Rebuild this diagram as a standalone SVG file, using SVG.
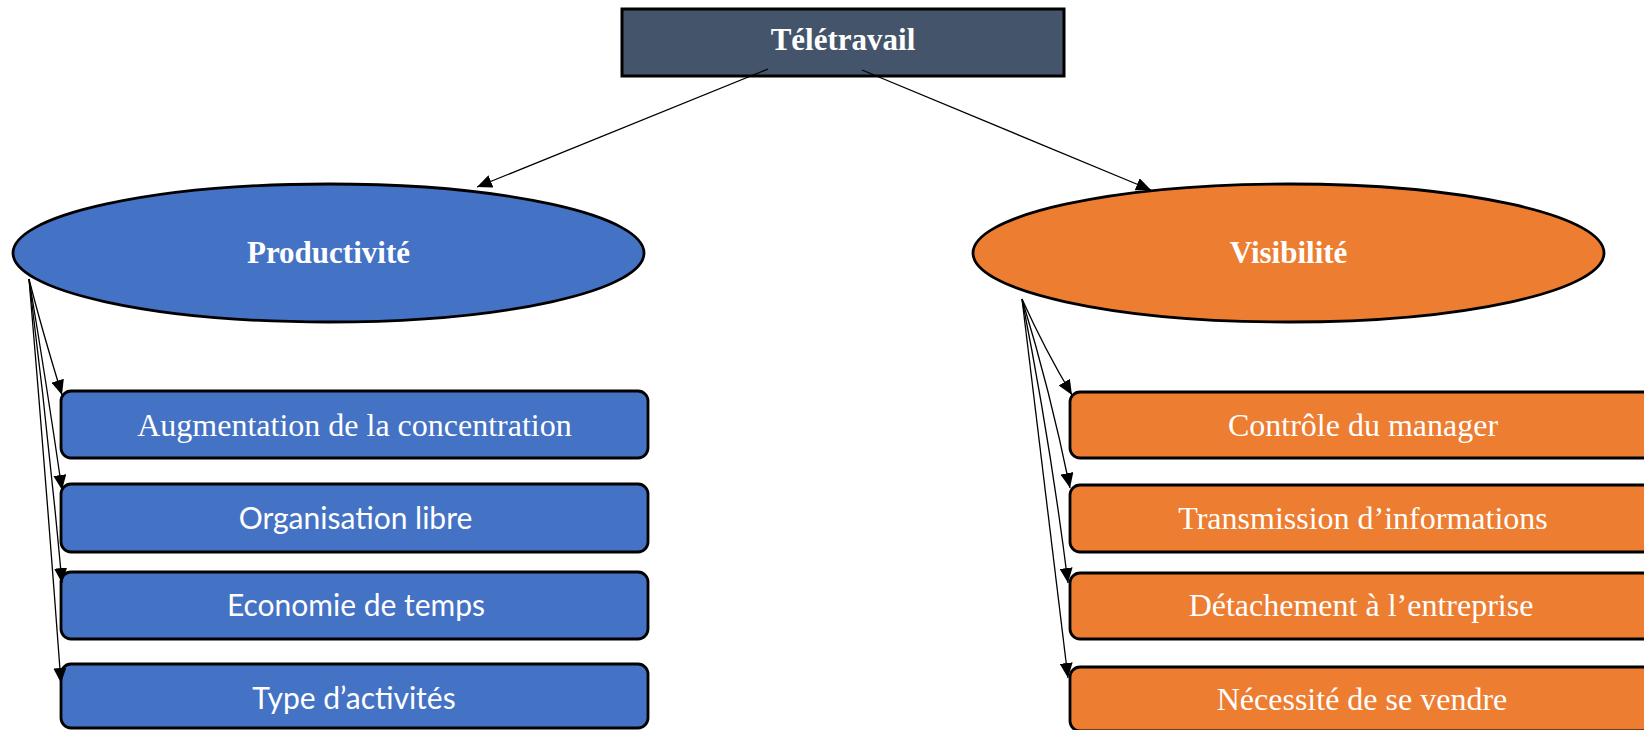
<svg xmlns="http://www.w3.org/2000/svg" width="1644" height="730" viewBox="0 0 1644 730">
<defs>
<marker id="ah" markerUnits="userSpaceOnUse" markerWidth="16" markerHeight="13" refX="15" refY="6.5" orient="auto">
<path d="M0,0 L15,6.5 L0,13 Z" fill="#000"/>
</marker>
<style>
.top{fill:#44546A;stroke:#000;stroke-width:3}
.blue{fill:#4472C4;stroke:#000;stroke-width:2.8}
.orange{fill:#ED7D31;stroke:#000;stroke-width:2.8}
.title{font-family:"Liberation Serif",serif;font-weight:bold;font-size:31px;fill:#fff;text-anchor:middle}
.serif{font-family:"Liberation Serif",serif;font-size:32px;fill:#fff;text-anchor:middle}
.sans{font-family:Lato,"Liberation Sans",sans-serif;font-size:30px;fill:#fff;text-anchor:middle}
.conn{fill:none;stroke:#000;stroke-width:1.3;marker-end:url(#ah)}
</style>
</defs>
<rect width="1644" height="730" fill="#fff"/>
<g id="teletravail">
<rect class="top" x="622" y="9" width="442" height="67"/>
<text class="title" x="843" y="50">Télétravail</text>
</g>
<g id="productivite">
<ellipse class="blue" cx="328.5" cy="253" rx="315.5" ry="69"/>
<text class="title" x="328.5" y="253" dy="10">Productivité</text>
</g>
<g id="visibilite">
<ellipse class="orange" cx="1288.5" cy="253" rx="315.5" ry="69"/>
<text class="title" x="1288.5" y="253" dy="10">Visibilité</text>
</g>
<g id="augmentation">
<rect class="blue" x="61" y="391" width="587" height="67" rx="10"/>
<text class="serif" x="354.5" y="436">Augmentation de la concentration</text>
</g>
<g id="organisation">
<rect class="blue" x="61" y="484" width="587" height="68" rx="10"/>
<text class="sans" x="355.5" y="529">Organisation libre</text>
</g>
<g id="economie">
<rect class="blue" x="61" y="572" width="587" height="67" rx="10"/>
<text class="sans" x="356" y="616">Economie de temps</text>
</g>
<g id="type">
<rect class="blue" x="61" y="664" width="587" height="64" rx="10"/>
<text class="sans" x="354" y="709">Type d’activités</text>
</g>
<g id="controle">
<rect class="orange" x="1070" y="392" width="587" height="66" rx="10"/>
<text class="serif" x="1363" y="436">Contrôle du manager</text>
</g>
<g id="transmission">
<rect class="orange" x="1070" y="485" width="587" height="67" rx="10"/>
<text class="serif" x="1363" y="529">Transmission d’informations</text>
</g>
<g id="detachement">
<rect class="orange" x="1070" y="573" width="587" height="66" rx="10"/>
<text class="serif" x="1361" y="616">Détachement à l’entreprise</text>
</g>
<g id="necessite">
<rect class="orange" x="1070" y="667" width="587" height="64" rx="10"/>
<text class="serif" x="1362" y="710">Nécessité de se vendre</text>
</g>
<g id="connectors">
<path class="conn" d="M768,69 L477,187"/>
<path class="conn" d="M862,70 L1151,190"/>
<path class="conn" d="M29,279 Q42,330 62,395"/>
<path class="conn" d="M29,279 Q46,380 62,490"/>
<path class="conn" d="M29,279 Q48,430 62,583"/>
<path class="conn" d="M29,279 Q46,480 61,683"/>
<path class="conn" d="M1022,299 Q1045,350 1072,395"/>
<path class="conn" d="M1022,299 Q1050,390 1070,488"/>
<path class="conn" d="M1022,299 Q1050,440 1068,583"/>
<path class="conn" d="M1022,299 Q1045,490 1068,678"/>
</g>
</svg>
